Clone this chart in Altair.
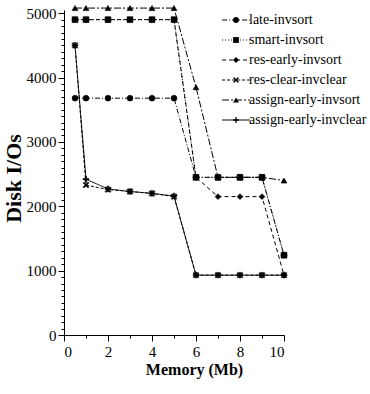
import altair as alt
import pandas as pd

# Memory sizes (Mb) at which each policy was measured
memory_mb = [0.5, 1, 2, 3, 4, 5, 6, 7, 8, 9, 10]

series_names = [
    "late-invsort",
    "smart-invsort",
    "res-early-invsort",
    "res-clear-invclear",
    "assign-early-invsort",
    "assign-early-invclear",
]

# Disk I/Os per policy
late_invsort = [3680, 3680, 3680, 3680, 3680, 3680, 2450, 2450, 2450, 2450, 1240]
smart_invsort = [4900, 4900, 4900, 4900, 4900, 4900, 2450, 2450, 2450, 2450, 1240]
res_early_invsort = [4900, 4900, 4900, 4900, 4900, 4900, 2450, 2150, 2150, 2150, 930]
res_clear_invclear = [4500, 2330, 2260, 2230, 2200, 2150, 930, 930, 930, 930, 930]
assign_early_invsort = [5080, 5080, 5080, 5080, 5080, 5080, 3850, 2450, 2450, 2450, 2400]
assign_early_invclear = [4500, 2420, 2270, 2230, 2200, 2160, 930, 930, 930, 930, 930]

series_values = [
    late_invsort,
    smart_invsort,
    res_early_invsort,
    res_clear_invclear,
    assign_early_invsort,
    assign_early_invclear,
]

rows = []
for name, values in zip(series_names, series_values):
    for m, v in zip(memory_mb, values):
        rows.append({"memory": m, "ios": v, "series": name, "marker": name})
df = pd.DataFrame(rows)

# Line styles and marker glyphs per series (crosses as thin filled outlines)
dashes = [[5, 2, 1, 2], [1, 2], [4, 3], [3, 2], [7, 2, 2, 2], [1, 0]]
X_MARK = ("M-0.68,-1L0,-0.32L0.68,-1L1,-0.68L0.32,0L1,0.68L0.68,1L0,0.32"
          "L-0.68,1L-1,0.68L-0.32,0L-1,-0.68Z")
PLUS_MARK = ("M-1,-0.22L-0.22,-0.22L-0.22,-1L0.22,-1L0.22,-0.22L1,-0.22L1,0.22"
             "L0.22,0.22L0.22,1L-0.22,1L-0.22,0.22L-1,0.22Z")
shapes = ["circle", "square", "diamond", X_MARK, "triangle-up", PLUS_MARK]

SERIF = "Liberation Serif"

x_enc = alt.X(
    "memory:Q",
    scale=alt.Scale(domain=[0, 10], nice=False),
    axis=alt.Axis(
        title="Memory (Mb)",
        values=list(range(0, 11)),
        labelExpr="datum.value % 2 === 0 ? datum.label : ''",
        tickSize={"condition": {"test": "datum.value % 2 === 0", "value": 6}, "value": 3},
        labelFontSize=15,
        labelPadding=3,
        titleFontSize=16,
        titleFontWeight="bold",
        titlePadding=2,
        titleX=130,
    ),
)
y_enc = alt.Y(
    "ios:Q",
    scale=alt.Scale(domain=[0, 5050], nice=False),
    axis=alt.Axis(
        title="Disk I/Os",
        values=list(range(0, 5001, 100)),
        format="d",
        labelExpr="datum.value % 1000 === 0 ? datum.label : ''",
        tickSize={"condition": {"test": "datum.value % 1000 === 0", "value": 6}, "value": 3},
        labelFontSize=15,
        labelPadding=2,
        titleFontSize=22,
        titleFontWeight="bold",
        titlePadding=1,
        titleY=168,
    ),
)

# Both legends share position and row layout, so each marker sits on its line
legend_common = dict(
    title=None,
    orient="none",
    legendX=165,
    legendY=3,
    padding=0,
    labelFont=SERIF,
    labelFontSize=14,
    labelOffset=6,
    labelLimit=220,
    rowPadding=6,
)

lines = alt.Chart(df).mark_line(color="black", strokeWidth=1).encode(
    x=x_enc,
    y=y_enc,
    strokeDash=alt.StrokeDash(
        "series:N",
        scale=alt.Scale(domain=series_names, range=dashes),
        legend=alt.Legend(
            symbolType="M-5,0L5,0",
            symbolSize=31,
            symbolStrokeWidth=1,
            symbolStrokeColor="black",
            labelColor="black",
            **legend_common,
        ),
    ),
)

points = alt.Chart(df).mark_point(
    filled=True, fill="black", stroke="black", strokeWidth=0.6, size=34, opacity=1
).encode(
    x=x_enc,
    y=y_enc,
    shape=alt.Shape(
        "marker:N",
        sort=series_names,
        scale=alt.Scale(range=shapes),
        legend=alt.Legend(
            symbolSize=34,
            symbolFillColor="black",
            symbolStrokeColor="black",
            symbolStrokeWidth=0.6,
            labelOpacity=0,
            **legend_common,
        ),
    ),
)

chart = (
    alt.layer(lines, points)
    .properties(
        width=220,
        height=325,
        autosize=alt.AutoSizeParams(type="none"),
        padding={"left": 64, "top": 10, "right": 86, "bottom": 59},
    )
    .configure_view(stroke=None)
    .configure_axis(
        grid=False,
        domainColor="black",
        domainWidth=1,
        tickColor="black",
        tickWidth=1,
        labelColor="black",
        labelFont=SERIF,
        titleColor="black",
        titleFont=SERIF,
    )
)

chart.save("out.html", embed_options={"renderer": "svg", "actions": False})
